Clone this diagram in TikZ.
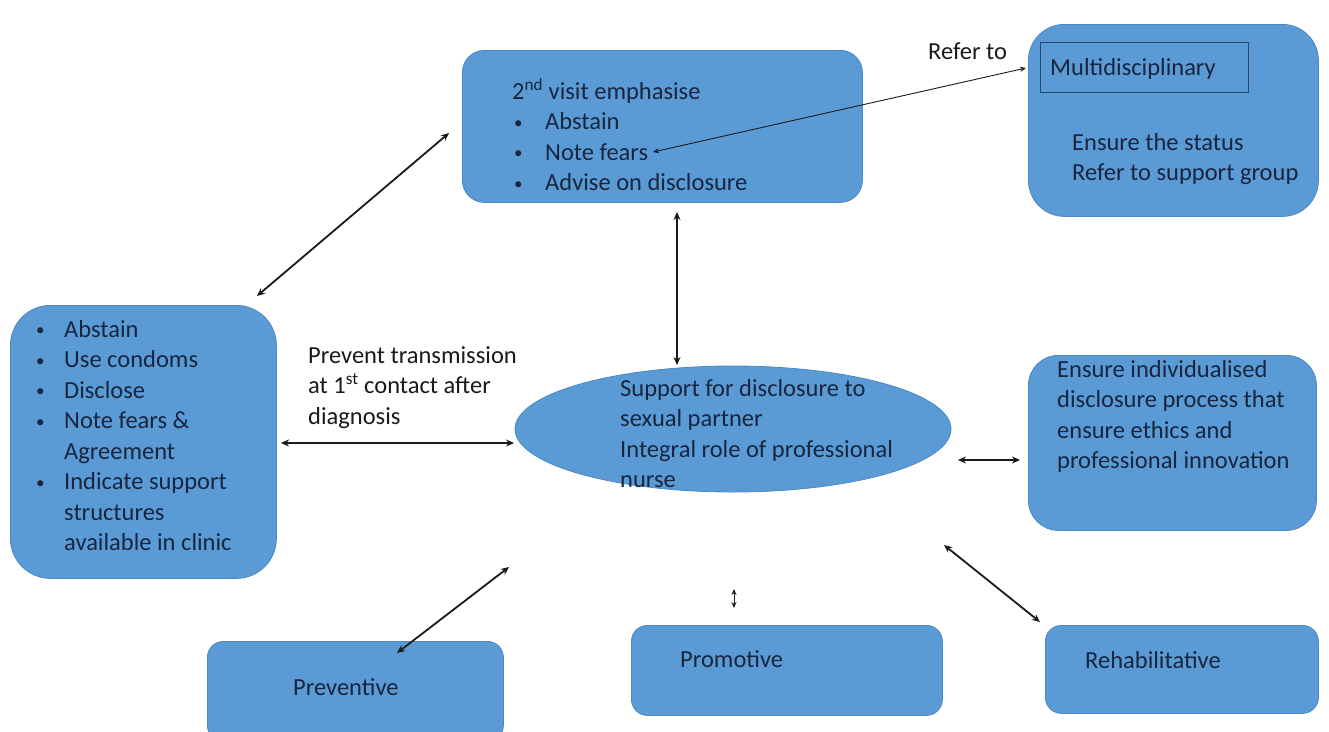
\documentclass[tikz,border=0pt]{standalone}
\usepackage{fontspec}
\setmainfont{Carlito}
\usetikzlibrary{arrows.meta,shapes.geometric}
\definecolor{boxfill}{HTML}{5B9BD5}
\definecolor{boxline}{HTML}{4A88C4}
\definecolor{navy}{HTML}{17253F}
\definecolor{ink}{HTML}{1A1A1A}
\newcommand{\bul}[1]{\makebox[#1][l]{\hspace*{2pt}\raisebox{1.5pt}{\fontsize{17}{17}\selectfont •}}}
\tikzset{
  box/.style={draw=boxline, line width=0.8pt, fill=boxfill, rounded corners=#1, inner sep=0pt, anchor=north west},
  txt/.style={anchor=north west, inner sep=0pt, align=left, text=navy, font=\fontsize{24.5}{30.5}\selectfont},
  plain/.style={anchor=north west, inner sep=0pt, align=left, text=ink, font=\fontsize{24.5}{30.5}\selectfont},
  arr/.style={{Stealth[length=8pt,width=7pt]}-{Stealth[length=8pt,width=7pt]}, line width=1.8pt, draw=ink},
  thinarr/.style={{Stealth[length=6pt,width=5pt]}-{Stealth[length=6pt,width=5pt]}, line width=0.9pt, draw=ink},
}
\begin{document}
\begin{tikzpicture}[x=1pt,y=-1pt]
\path[fill=white] (0,0) rectangle (1329,731);
\useasboundingbox (0,0) rectangle (1329,731);

% boxes
\node[box=22pt, minimum width=400pt, minimum height=152pt] (visit) at (462,50) {};
\node[box=36pt, minimum width=290pt, minimum height=192pt] (multi) at (1028,24) {};
\node[draw=navy!70!boxfill, line width=0.8pt, inner sep=0pt, anchor=north west, minimum width=208pt, minimum height=50pt] (multiin) at (1040,42) {};
\node[box=40pt, minimum width=266pt, minimum height=273pt] (left) at (10,305) {};
\node[ellipse, draw=boxline, line width=0.8pt, fill=boxfill, inner sep=0pt, minimum width=436pt, minimum height=126pt] (core) at (733,429) {};
\node[box=30pt, minimum width=288pt, minimum height=175pt] (right) at (1028,355) {};
\node[box=16pt, minimum width=296pt, minimum height=100pt] (prev) at (207,641) {};
\node[box=16pt, minimum width=311pt, minimum height=90pt] (promo) at (631,625) {};
\node[box=16pt, minimum width=273pt, minimum height=88pt] (rehab) at (1045,625) {};

% texts
\node[txt] (visittxt) at (512,78) {2\textsuperscript{nd} visit emphasise\\
\bul{33pt}Abstain\\ \bul{33pt}Note fears\\ \bul{33pt}Advise on disclosure};
\node[txt] (multitxt) at (1050,58) {Multidisciplinary};
\node[txt] (multitxt2) at (1072,133) {Ensure the status\\Refer to support group};
\node[txt] (lefttxt) at (34,320) {\bul{30pt}Abstain\\ \bul{30pt}Use condoms\\ \bul{30pt}Disclose\\
\bul{30pt}Note fears \&\\ \hspace*{30pt}Agreement\\ \bul{30pt}Indicate support\\ \hspace*{30pt}structures\\ \hspace*{30pt}available in clinic};
\node[txt] (coretxt) at (620,379) {Support for disclosure to\\sexual partner\\Integral role of professional\\nurse};
\node[txt] (righttxt) at (1057,360) {Ensure individualised\\disclosure process that\\ensure ethics and\\professional innovation};
\node[txt] (prevtxt) at (293,678) {Preventive};
\node[txt] (promotxt) at (680,650) {Promotive};
\node[txt] (rehabtxt) at (1085,651) {Rehabilitative};
\node[plain] (preventtxt) at (308,346) {Prevent transmission\\at 1\textsuperscript{st} contact after\\diagnosis};
\node[plain] (refertxt) at (928,43) {Refer to};

% connector end points
\coordinate (a1) at (449,133); \coordinate (a2) at (257,296);
\coordinate (r1) at (1026,68); \coordinate (r2) at (653,152);
\coordinate (v1) at (677,212); \coordinate (v2) at (677,365);
\coordinate (l1) at (281,443); \coordinate (l2) at (514,443);
\coordinate (c1) at (958,460); \coordinate (c2) at (1020,460);
\coordinate (p1) at (509,567); \coordinate (p2) at (397,653);
\coordinate (m1) at (734,589); \coordinate (m2) at (734,608);
\coordinate (h1) at (944,545); \coordinate (h2) at (1040,622);

\draw[arr] (a1) -- (a2);
\draw[thinarr] (r1) -- (r2);
\draw[arr] (v1) -- (v2);
\draw[arr] (l1) -- (l2);
\draw[arr] (c1) -- (c2);
\draw[arr] (p1) -- (p2);
\draw[thinarr] (m1) -- (m2);
\draw[arr] (h1) -- (h2);
\end{tikzpicture}
\end{document}
